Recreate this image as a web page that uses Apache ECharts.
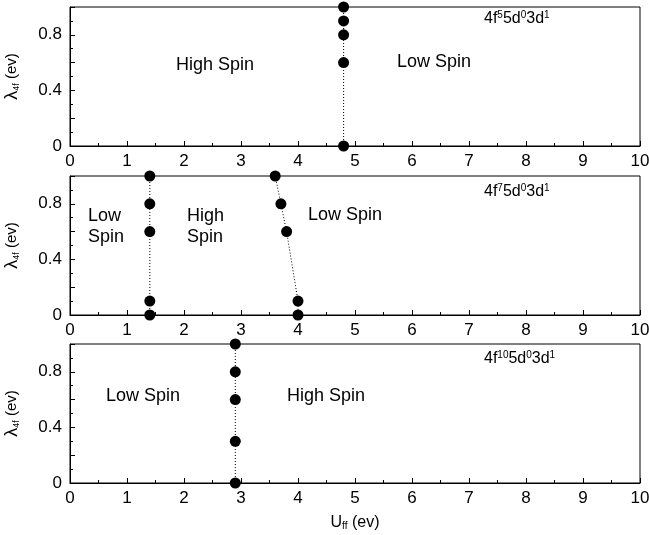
<!DOCTYPE html>
<html>
<head>
<meta charset="utf-8">
<script src="https://cdn.jsdelivr.net/npm/echarts@6/dist/echarts.min.js"></script>
<style>
  html, body { margin: 0; padding: 0; background: #fff; }
  #chart { width: 649px; height: 535px; }
</style>
</head>
<body>
<div id="chart"></div>
<script>
// phase boundary points, U_ff (x) vs lambda_4f (y)
const panel1X = [4.8, 4.8, 4.8, 4.8, 4.8];
const panel1Y = [1.0, 0.9, 0.8, 0.6, 0.0];

const panel2aX = [1.4, 1.4, 1.4, 1.4, 1.4];
const panel2aY = [1.0, 0.8, 0.6, 0.1, 0.0];
const panel2bX = [3.6, 3.7, 3.8, 4.0, 4.0];
const panel2bY = [1.0, 0.8, 0.6, 0.1, 0.0];

const panel3X = [2.9, 2.9, 2.9, 2.9, 2.9];
const panel3Y = [1.0, 0.8, 0.6, 0.3, 0.0];

const yTickLabels = ['0', '0.4', '0.8'];

const font = 'Liberation Sans, Arial, sans-serif';

const chart = echarts.init(document.getElementById('chart'));

const gridTops = [7, 176, 344];
const gridHeight = 139;

const grids = gridTops.map(t => ({
    left: 70, right: 9, top: t, height: gridHeight,
    outerBoundsMode: 'none', containLabel: false,
    show: true, borderColor: '#000', borderWidth: 1, backgroundColor: 'transparent'
}));

const xAxes = gridTops.map((t, i) => ({
    type: 'value', gridIndex: i, min: 0, max: 10, interval: 1,
    axisLine: { show: true, lineStyle: { color: '#000' } },
    axisTick: { show: true, inside: true, length: 5, lineStyle: { color: '#000' } },
    minorTick: { show: true, splitNumber: 2, length: 3, lineStyle: { color: '#000' } },
    splitLine: { show: false },
    axisLabel: { color: '#000', fontSize: 17, fontFamily: font, margin: 7 },
    name: i === 2 ? '{u|U}{s|ff}{u| (ev)}' : '',
    nameLocation: 'middle', nameGap: 31,
    nameTextStyle: {
        rich: {
            u: { fontSize: 16, fontFamily: font, color: '#000' },
            s: { fontSize: 10, fontFamily: font, color: '#000', verticalAlign: 'bottom', padding: [7, 0, 0, 0] }
        }
    }
}));

const yAxes = gridTops.map((t, i) => ({
    type: 'value', gridIndex: i, min: 0, max: 1, interval: 0.2,
    axisLine: { show: true, lineStyle: { color: '#000' } },
    axisTick: { show: true, inside: true, length: 5, lineStyle: { color: '#000' } },
    minorTick: { show: true, splitNumber: 2, length: 3, lineStyle: { color: '#000' } },
    splitLine: { show: false },
    axisLabel: {
        color: '#000', fontSize: 17, fontFamily: font, margin: 8,
        formatter: v => {
            const s = String(Math.round(v * 10) / 10);
            return yTickLabels.includes(s) ? s : '';
        }
    },
    name: '{l|λ}{s|4f}{u| (ev)}',
    nameLocation: 'middle', nameGap: 49, nameRotate: 90,
    nameTextStyle: {
        rich: {
            l: { fontSize: 18, fontFamily: font, color: '#000' },
            u: { fontSize: 15, fontFamily: font, color: '#000' },
            s: { fontSize: 9, fontFamily: font, color: '#000', verticalAlign: 'bottom', padding: [7, 0, 0, 0] }
        }
    }
}));

function boundary(xs, ys, idx) {
    return {
        type: 'line', xAxisIndex: idx, yAxisIndex: idx,
        data: xs.map((x, k) => [x, ys[k]]),
        symbol: 'circle', symbolSize: 11,
        itemStyle: { color: '#000' },
        lineStyle: { color: '#000', width: 1, type: [1, 2] },
        clip: false, silent: true, animation: false
    };
}

const rich = {
    t: { fontSize: 16, fontFamily: font, color: '#000' },
    p: { fontSize: 10, fontFamily: font, color: '#000', verticalAlign: 'top', padding: [0, 0, 7, 0] }
};

function text(x, y, str) {
    return {
        type: 'text', left: x, top: y,
        style: { text: str, fill: '#000', font: '18px ' + font, lineHeight: 21 }
    };
}

function config(sup) {
    return {
        type: 'text', left: 0, top: 0,
        style: {
            text: '{t|4f}{p|' + sup + '}{t|5d}{p|0}{t|3d}{p|1}',
            rich: rich
        }
    };
}

const graphics = [
    text(176, 55, 'High Spin'),
    text(397, 52, 'Low Spin'),
    Object.assign(config('5'), { left: 484, top: 10 }),

    text(88, 206, 'Low\nSpin'),
    text(187, 206, 'High\nSpin'),
    text(308, 205, 'Low Spin'),
    Object.assign(config('7'), { left: 484, top: 183 }),

    text(106, 386, 'Low Spin'),
    text(287, 386, 'High Spin'),
    Object.assign(config('10'), { left: 484, top: 350 })
];

chart.setOption({
    animation: false,
    grid: grids,
    xAxis: xAxes,
    yAxis: yAxes,
    series: [
        boundary(panel1X, panel1Y, 0),
        boundary(panel2aX, panel2aY, 1),
        boundary(panel2bX, panel2bY, 1),
        boundary(panel3X, panel3Y, 2)
    ],
    graphic: graphics
});
</script>
</body>
</html>
